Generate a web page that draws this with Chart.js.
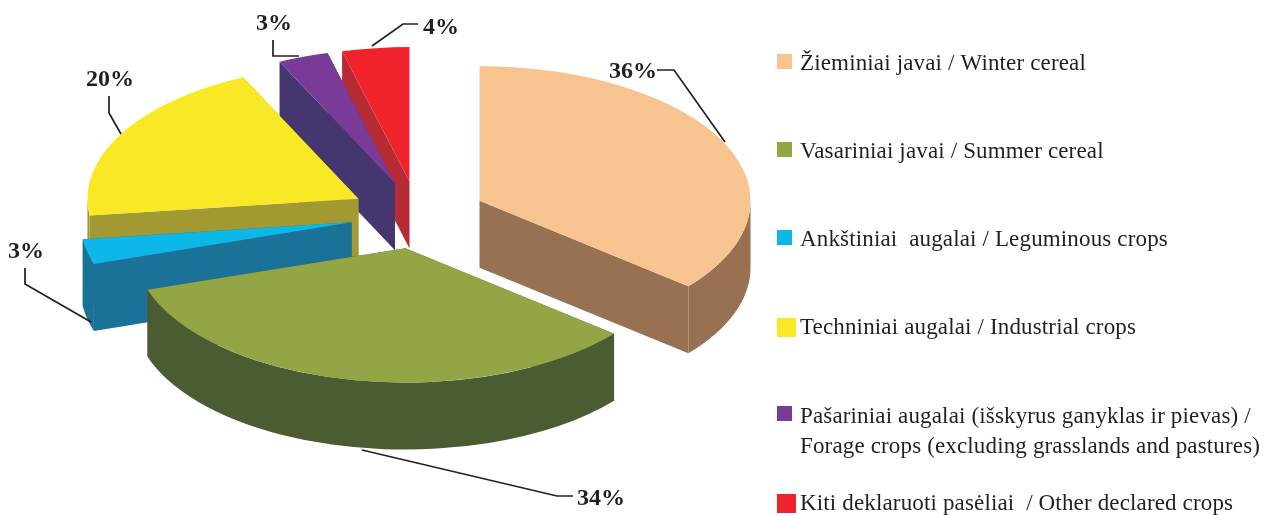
<!DOCTYPE html>
<html><head><meta charset="utf-8">
<style>html,body{margin:0;padding:0;background:#fff}#w{width:1270px;height:515px}canvas{display:block}</style>
<script src="https://cdn.jsdelivr.net/npm/chart.js@4"></script></head>
<body><div id="w"><canvas id="c" width="1270" height="515"></canvas></div>
<script>
const categories = ['Žieminiai javai / Winter cereal','Vasariniai javai / Summer cereal','Ankštiniai  augalai / Leguminous crops','Techniniai augalai / Industrial crops','Pašariniai augalai (išskyrus ganyklas ir pievas) /','Kiti deklaruoti pasėliai  / Other declared crops'];
const legendContinuation = [null,null,null,null,'Forage crops (excluding grasslands and pastures)',null];
const shares = [36,34,3,20,3,4];
const topColors = ['#f7c38e','#93a645','#0db7e8','#f8e825','#7a3b98','#f0222c'];
const wallColors = ['#987152','#4b5c32','#1a7299','#a39933','#46366f','#b72b34'];
const paintOrder = [5,4,3,2,0,1];
const F='"Liberation Serif"';
const INK='#231f20';
const G={cx:418,cy:215,squash:0.496,explode:68,depth:67};
const leaders=[[[725,142],[674,70],[657,70]],[[362,450],[557,496],[573,496]],[[91,322],[25,284],[25,268]],[[121,134],[109,113],[109,96]],[[299,56],[273,56],[273,40]],[[372,46],[403,24],[418,24]]];
const labelAt=[[633,72],[601,499],[26,252],[110,80],[274,24],[441,28]];
const legendRows=[64,152,240,328,417,504];
const legendBox=[[777,54,15,15],[777,142,15,15],[777,230,15,15],[777,318,19,19],[777,406,15,15],[777,494,19,19]];
const pie3d={id:'pie3d',
 beforeDatasetDraw(chart,args){
  const ctx=chart.ctx,meta=args.meta,a0=meta.data[0];
  ctx.save();
  ctx.translate(G.cx,G.cy);ctx.scale(1,G.squash);ctx.translate(-a0.x,-a0.y);
  const d=G.depth/G.squash;
  for(const i of paintOrder){
   const a=meta.data[i],mid=(a.startAngle+a.endAngle)/2;
   ctx.save();ctx.translate(Math.cos(mid)*G.explode,Math.sin(mid)*G.explode);
   ctx.fillStyle=wallColors[i];
   const s=a.startAngle,e=a.endAngle,r=a.outerRadius;
   for(const p of [s,e]){
    const px=a.x+Math.cos(p)*r,py=a.y+Math.sin(p)*r;
    ctx.beginPath();ctx.moveTo(a.x,a.y);ctx.lineTo(px,py);ctx.lineTo(px,py+d);ctx.lineTo(a.x,a.y+d);ctx.closePath();ctx.fill();
   }
   const lo=Math.max(s,0),hi=Math.min(e,Math.PI);
   if(hi>lo){ctx.beginPath();ctx.arc(a.x,a.y,r,lo,hi);ctx.arc(a.x,a.y+d,r,hi,lo,true);ctx.closePath();ctx.fill();}
   a.draw(ctx);
   ctx.restore();
  }
  ctx.restore();
  return false;
 },
 afterDraw(chart){
  const ctx=chart.ctx;
  ctx.save();
  ctx.strokeStyle=INK;ctx.lineWidth=1.7;
  leaders.forEach(l=>{ctx.beginPath();l.forEach((p,i)=>i?ctx.lineTo(p[0],p[1]):ctx.moveTo(p[0],p[1]));ctx.stroke();});
  ctx.fillStyle=INK;ctx.font='bold 24px '+F;ctx.textAlign='center';ctx.textBaseline='middle';
  shares.forEach((v,i)=>ctx.fillText(v+'%',labelAt[i][0],labelAt[i][1]));
  ctx.font='23px '+F;ctx.textAlign='left';ctx.letterSpacing='0.15px';
  categories.forEach((t,i)=>{
   const b=legendBox[i];
   ctx.fillStyle=topColors[i];ctx.fillRect(b[0],b[1],b[2],b[3]);
   ctx.fillStyle=INK;ctx.fillText(t,800,legendRows[i]);
   if(legendContinuation[i])ctx.fillText(legendContinuation[i],800,legendRows[i]+30);
  });
  ctx.restore();
 }};
new Chart(document.getElementById('c'),{type:'pie',
 data:{labels:categories,datasets:[{data:shares,backgroundColor:topColors,borderWidth:0,clip:false,radius:271}]},
 plugins:[pie3d],
 options:{responsive:false,animation:false,
  plugins:{tooltip:{enabled:false},title:{display:false},legend:{display:false}}}});
</script></body></html>
